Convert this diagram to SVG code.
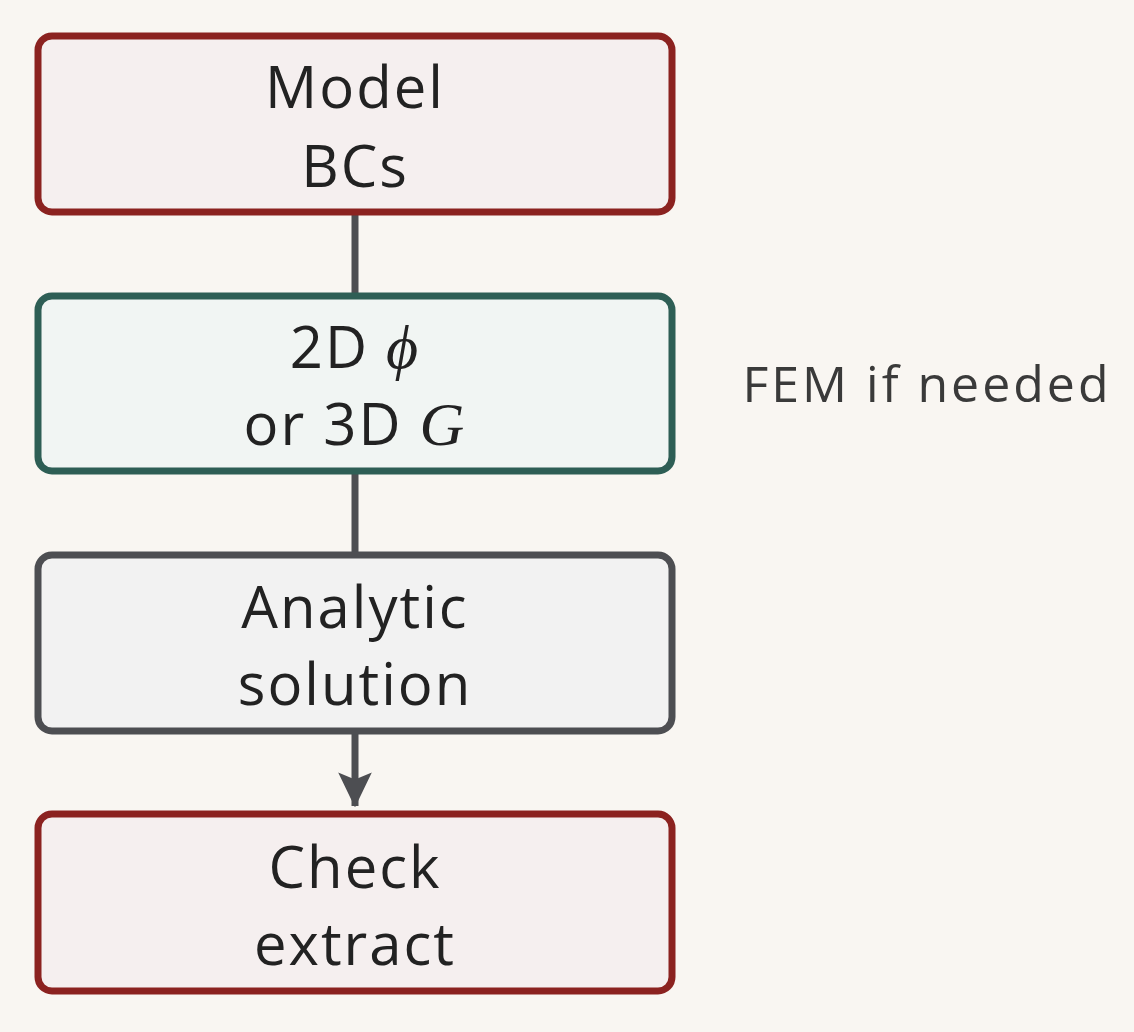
<svg xmlns="http://www.w3.org/2000/svg" width="1134" height="1032" viewBox="0 0 1134 1032">
<style>
.b{stroke-width:7}
.t{font-family:"Open Sans",sans-serif;font-size:58px;letter-spacing:2px;fill:#222;text-anchor:middle}
.m{font-family:"Liberation Serif",serif;font-style:italic;font-size:62px}
.c{stroke:#4D4E52;stroke-width:7;fill:none}
</style>
<defs><marker id="a" markerWidth="5" markerHeight="7" refX="4.8" refY="2.4" orient="auto" markerUnits="strokeWidth"><path d="M0,0 L5,2.4 L0,4.8 L1,2.4 Z" fill="#4D4E52"/></marker></defs>
<rect width="1134" height="1032" fill="#F9F6F2"/>
<g id="connectors">
<line class="c" x1="355" y1="212" x2="355" y2="296"/>
<line class="c" x1="355" y1="471" x2="355" y2="555"/>
<line class="c" x1="355" y1="731" x2="355" y2="806" marker-end="url(#a)"/>
</g>
<g id="n1"><rect class="b" x="38" y="36" width="634" height="176" rx="14" fill="#F5EFEF" stroke="#8B2220"/>
<text class="t" x="355" y="108">Model</text><text class="t" x="355" y="187">BCs</text></g>
<g id="n2"><rect class="b" x="38" y="296" width="634" height="175" rx="14" fill="#F1F5F3" stroke="#2E5E55"/>
<text class="t" x="355" y="368">2D <tspan class="m">ϕ</tspan></text><text class="t" x="355" y="445">or 3D <tspan class="m">G</tspan></text></g>
<g id="n3"><rect class="b" x="38" y="555" width="634" height="176" rx="14" fill="#F2F2F2" stroke="#4D4E52"/>
<text class="t" x="355" y="628">Analytic</text><text class="t" x="355" y="705">solution</text></g>
<g id="n4"><rect class="b" x="38" y="814" width="634" height="177" rx="14" fill="#F5EFEF" stroke="#8B2220"/>
<text class="t" x="355" y="888">Check</text><text class="t" x="355" y="965">extract</text></g>
<text x="927" y="402" font-family="'Open Sans',sans-serif" font-size="50" letter-spacing="3" fill="#3a3a3a" text-anchor="middle">FEM if needed</text>
</svg>
